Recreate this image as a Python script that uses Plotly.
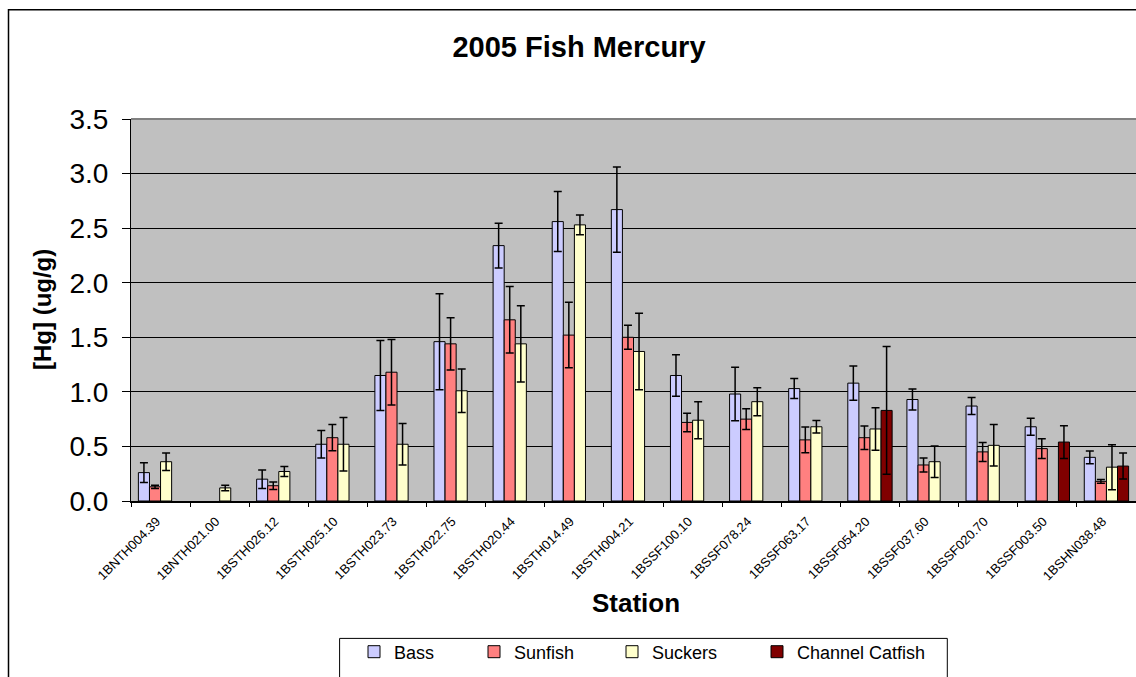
import plotly.graph_objects as go

# ---------------- data ----------------
stations = ["1BNTH004.39", "1BNTH021.00", "1BSTH026.12", "1BSTH025.10", "1BSTH023.73",
            "1BSTH022.75", "1BSTH020.44", "1BSTH014.49", "1BSTH004.21", "1BSSF100.10",
            "1BSSF078.24", "1BSSF063.17", "1BSSF054.20", "1BSSF037.60", "1BSSF020.70",
            "1BSSF003.50", "1BSHN038.48"]

bass = [0.26, None, 0.20, 0.52, 1.15, 1.46, 2.34, 2.56, 2.67, 1.15, 0.98, 1.03, 1.08, 0.93, 0.87, 0.68, 0.40]
bass_err = [0.09, None, 0.085, 0.125, 0.32, 0.44, 0.205, 0.275, 0.39, 0.19, 0.245, 0.092, 0.156, 0.096, 0.078, 0.078, 0.058]

sunfish = [0.13, None, 0.14, 0.58, 1.18, 1.44, 1.66, 1.52, 1.50, 0.72, 0.75, 0.56, 0.58, 0.33, 0.45, 0.48, 0.18]
sunfish_err = [0.015, None, 0.035, 0.12, 0.30, 0.24, 0.305, 0.30, 0.11, 0.085, 0.096, 0.118, 0.108, 0.065, 0.087, 0.09, 0.017]

suckers = [0.36, 0.12, 0.27, 0.52, 0.52, 1.01, 1.44, 2.53, 1.37, 0.74, 0.91, 0.68, 0.66, 0.36, 0.51, None, 0.31]
suckers_err = [0.08, 0.025, 0.045, 0.245, 0.19, 0.20, 0.35, 0.09, 0.35, 0.17, 0.128, 0.057, 0.195, 0.145, 0.19, None, 0.206]

catfish = [None] * 12 + [0.83, None, None, 0.54, 0.32]
catfish_err = [None] * 12 + [0.585, None, None, 0.15, 0.119]

series_names = ["Bass", "Sunfish", "Suckers", "Channel Catfish"]
series_colors = ["#CCCCFF", "#FF8080", "#FFFFCC", "#800000"]

# ---------------- layout geometry (screen px) ----------------
W, H = 1136, 677
PL, PR, PT, PB = 131, 1136, 119, 501
FONT = "Arial, Liberation Sans, sans-serif"


def px(x):
    return (x - PL) / (PR - PL)


def py(y):
    return (PB - y) / (PB - PT)


fig = go.Figure()
values = [bass, sunfish, suckers, catfish]
errors = [bass_err, sunfish_err, suckers_err, catfish_err]
legend_ids = ["legend", "legend2", "legend3", "legend4"]
for name, vals, errs, color, lid in zip(series_names, values, errors, series_colors, legend_ids):
    fig.add_trace(go.Bar(
        x=stations, y=vals, name=name, legend=lid,
        marker=dict(color=color, line=dict(color="black", width=1)),
        error_y=dict(type="data", array=errs, visible=True, color="black", thickness=1.5, width=4),
    ))

legend_left = [354, 474, 612, 757]
legend_common = dict(orientation="h", yanchor="middle", xanchor="left", y=py(652),
                     font=dict(family=FONT, size=18, color="black"),
                     bgcolor="rgba(0,0,0,0)", borderwidth=0)
legends = {}
for lid, lx in zip(legend_ids, legend_left):
    legends[lid] = dict(x=px(lx), **legend_common)

fig.update_layout(
    width=W, height=H,
    margin=dict(l=PL, r=W - PR, t=PT, b=H - PB, autoexpand=False),
    paper_bgcolor="white", plot_bgcolor="#C0C0C0",
    barmode="group", bargap=0.25, bargroupgap=0,
    showlegend=True,
    font=dict(family=FONT, color="black"),
    title=dict(text="2005 Fish Mercury", x=579 / W, xanchor="center",
               y=1 - 47 / H, yanchor="middle",
               font=dict(family=FONT, size=29, weight="bold", color="black")),
    xaxis=dict(type="category", showline=True, linecolor="black", linewidth=1.5,
               ticks="outside", ticklen=4, tickcolor="black", tickson="boundaries",
               tickangle=-45, tickfont=dict(family=FONT, size=13, color="black"),
               ticklabelstandoff=6, ticklabelshift=-4,
               showgrid=False, zeroline=False),
    yaxis=dict(range=[0, 3.5], dtick=0.5, tick0=0, tickformat=".1f",
               showgrid=True, gridcolor="black", gridwidth=1,
               showline=True, linecolor="black", linewidth=1,
               ticks="outside", ticklen=8, tickcolor="black", tickwidth=1,
               ticklabelstandoff=8,
               tickfont=dict(family=FONT, size=28, color="black"), zeroline=False),
    **legends,
)

fig.add_annotation(text="<b>[Hg] (ug/g)</b>", textangle=-90, xref="paper", yref="paper",
                   x=px(42), y=py(310), xanchor="center", yanchor="middle", showarrow=False,
                   font=dict(family=FONT, size=24, color="black"))
fig.add_annotation(text="<b>Station</b>", xref="paper", yref="paper",
                   x=px(636), y=py(603), xanchor="center", yanchor="middle", showarrow=False,
                   font=dict(family=FONT, size=26, color="black"))

# plot-area top border
fig.add_shape(type="line", xref="paper", yref="paper", x0=0, x1=1, y0=1, y1=1,
              line=dict(color="#808080", width=2), layer="above")
# chart outer border
fig.add_shape(type="rect", xref="paper", yref="paper", x0=px(8.5), y0=py(9.8), x1=px(1170), y1=py(720),
              line=dict(color="black", width=1.5), layer="above")
# legend box
fig.add_shape(type="rect", xref="paper", yref="paper", x0=px(339.6), y0=py(638.4), x1=px(947.3), y1=py(720),
              line=dict(color="black", width=1), layer="above")

fig.write_html("out.html", config={"displayModeBar": False},
               post_script="document.body.style.margin='0';")
